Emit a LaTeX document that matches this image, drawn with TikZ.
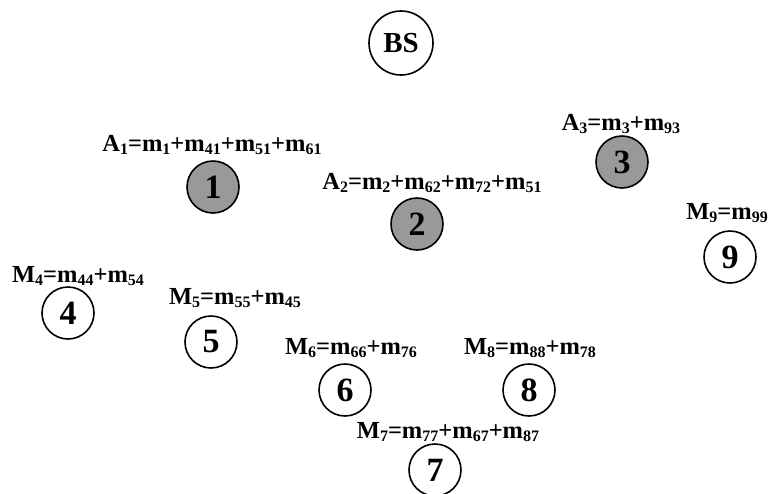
\documentclass[tikz,border=0pt]{standalone}
\usepackage{fontspec}
\setmainfont{Liberation Serif}
\newcommand\lsub[1]{\raisebox{-0.25ex}{\fontsize{16}{16}\selectfont #1}}
\begin{document}
\begin{tikzpicture}[x=1pt,y=-1pt,
  station/.style={circle,draw=black,line width=1.6pt,minimum size=52pt,inner sep=0pt,
    font=\fontsize{34}{34}\selectfont\bfseries},
  cluster/.style={station,fill=black!40},
  member/.style={station,fill=white},
  eqn/.style={inner sep=0pt,font=\fontsize{24.5}{24.5}\selectfont\bfseries}]
\useasboundingbox (0,0) rectangle (768,493);
% base station
\node[member,minimum size=64pt,font=\fontsize{29}{29}\selectfont\bfseries] (bs) at (401,43) {BS};
% cluster heads
\node[cluster] (n1) at (213,187) {1};
\node[cluster] (n2) at (417,224) {2};
\node[cluster] (n3) at (622,162) {3};
% ordinary members
\node[member] (n4) at (68,313) {4};
\node[member] (n5) at (211,342) {5};
\node[member] (n6) at (345,390) {6};
\node[member] (n7) at (435,470) {7};
\node[member] (n8) at (529,390) {8};
\node[member] (n9) at (730,257) {9};
% load expressions
\node[eqn] (l1) at (212,145) {A\lsub{1}=m\lsub{1}+m\lsub{41}+m\lsub{51}+m\lsub{61}};
\node[eqn] (l2) at (432,183) {A\lsub{2}=m\lsub{2}+m\lsub{62}+m\lsub{72}+m\lsub{51}};
\node[eqn] (l3) at (621,124) {A\lsub{3}=m\lsub{3}+m\lsub{93}};
\node[eqn] (l4) at (78,276) {M\lsub{4}=m\lsub{44}+m\lsub{54}};
\node[eqn] (l5) at (235,298) {M\lsub{5}=m\lsub{55}+m\lsub{45}};
\node[eqn] (l6) at (351,348) {M\lsub{6}=m\lsub{66}+m\lsub{76}};
\node[eqn] (l8) at (530,348) {M\lsub{8}=m\lsub{88}+m\lsub{78}};
\node[eqn] (l7) at (448,432) {M\lsub{7}=m\lsub{77}+m\lsub{67}+m\lsub{87}};
\node[eqn] (l9) at (727,213) {M\lsub{9}=m\lsub{99}};
\end{tikzpicture}
\end{document}
